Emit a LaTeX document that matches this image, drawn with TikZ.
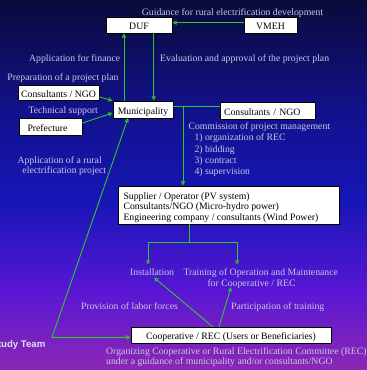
\documentclass[tikz,border=0pt]{standalone}
\usepackage{fontspec}
\setmainfont{Liberation Serif}
\newfontfamily\teamfont{Liberation Sans}
\usetikzlibrary{arrows.meta}

\definecolor{bgA}{RGB}{10,10,58}
\definecolor{bgB}{RGB}{18,18,140}
\definecolor{bgC}{RGB}{22,22,182}
\definecolor{bgD}{RGB}{88,22,212}
\definecolor{bgE}{RGB}{140,40,180}
\definecolor{labelgray}{RGB}{200,200,226}
\definecolor{linkgreen}{RGB}{45,200,45}

\begin{document}
\begin{tikzpicture}[x=1pt,y=-1pt,
  every node/.style={font=\fontsize{9.75}{11}\selectfont, inner sep=0pt},
  box/.style={draw=black, line width=0.8pt, fill=white, text=black,
              text height=9pt, text depth=0pt},
  lbl/.style={text=labelgray, anchor=base west},
  link/.style={draw=linkgreen, line width=0.9pt},
  tip/.tip={Triangle[open, length=4.2pt, width=4.2pt]},
  arr/.style={link, -tip},
  biarr/.style={link, tip-tip},
]
\useasboundingbox (0,0) rectangle (367,370);

% background gradient, dark navy to purple
\shade[top color=bgA, bottom color=bgB] (0,0) rectangle (367,110.5);
\shade[top color=bgB, bottom color=bgC] (0,110) rectangle (367,200.5);
\shade[top color=bgC, bottom color=bgD] (0,200) rectangle (367,290.5);
\shade[top color=bgD, bottom color=bgE] (0,290) rectangle (367,370);

% boxes
\node[box, minimum width=66pt, minimum height=16pt] (duf) at (139,25) {DUF};
\node[box, minimum width=53pt, minimum height=16pt] (vmeh) at (270.5,25) {VMEH};
\node[box, minimum width=81pt, minimum height=15pt] (cons1) at (58.5,92.5) {Consultants / NGO};
\node[box, minimum width=60pt, minimum height=17pt] (muni) at (143,109.5) {Municipality};
\node[box, minimum height=17pt, inner xsep=4pt, text width=87pt, align=left] (cons2) at (267.5,110.5) {Consultants / NGO};
\node[box, minimum height=17pt, inner xsep=8.5pt, text width=46pt, align=left] (pref) at (50.5,126.5) {Prefecture};
\node[box, minimum width=221pt, minimum height=38pt] (supp) at (228.5,205) {};
\node[box, minimum width=200pt, minimum height=16pt] (coop) at (231,335) {Cooperative / REC (Users or Beneficiaries)};

% supplier box contents
\node[anchor=base west, text=black] (suppA) at (123.3,199) {Supplier / Operator (PV system)};
\node[anchor=base west, text=black] (suppB) at (123.3,209.8) {Consultants/NGO (Micro-hydro power)};
\node[anchor=base west, text=black] (suppC) at (123.3,220.3) {Engineering company / consultants (Wind Power)};

% labels
\node[lbl] (guide) at (141.7,15.5) {Guidance for rural electrification development};
\node[lbl] (appfin) at (29,61) {Application for finance};
\node[lbl] (evalapp) at (160,61) {Evaluation and approval of the project plan};
\node[lbl] (prepplan) at (7.3,80) {Preparation of a project plan};
\node[lbl] (techsup) at (28.3,113.7) {Technical support};
\node[lbl] (commis) at (188.3,129.7) {Commission of project management};
\node[lbl] (stepA) at (194.3,140.9) {1) organization of REC};
\node[lbl] (stepB) at (194.3,152.2) {2) bidding};
\node[lbl] (stepC) at (194.3,163.5) {3) contract};
\node[lbl] (stepD) at (194.3,174.8) {4) supervision};
\node[lbl] (appA) at (17.3,163.3) {Application of a rural};
\node[lbl] (appB) at (22.3,173.5) {electrification project};
\node[lbl] (inst) at (130,275) {Installation};
\node[lbl] (trainA) at (183.3,275) {Training of Operation and Maintenance};
\node[lbl] (trainB) at (207.3,286.7) {for Cooperative / REC};
\node[lbl] (labor) at (81,309) {Provision of labor forces};
\node[lbl] (partic) at (231,309) {Participation of training};
\node[lbl] (orgA) at (106,354) {Organizing Cooperative or Rural Electrification Committee (REC)};
\node[lbl] (orgB) at (106,364.3) {under a guidance of municipality and/or consultants/NGO};
\node[anchor=base east, text=labelgray!60!white, font=\teamfont\bfseries\fontsize{9.6}{11}\selectfont] (team) at (45.5,347.3) {Study Team};

% helper points for the connectors
\coordinate (upx) at (124,0);
\coordinate (downx) at (153.7,0);
\coordinate (hl) at (200,106.7);
\coordinate (junc) at (183,106.7);
\coordinate (split) at (189,242);
\coordinate (instTip) at (148,264.5);
\coordinate (trainTip) at (237,264.5);
\coordinate (coopL) at (213,327);
\coordinate (coopR) at (219,327);
\coordinate (instIn) at (154,277.5);
\coordinate (trainIn) at (231,287);
\coordinate (bend) at (52,337.3);
\coordinate (muniIn) at (128,118);

% connectors
\draw[arr] ([yshift=2.3pt]vmeh.west) -- ([yshift=2.3pt]vmeh.west -| duf.east);
\draw[arr] (muni.north -| upx) -- (duf.south -| upx);
\draw[arr] (duf.south -| downx) -- (muni.north -| downx);
\draw[arr] ([yshift=-4.5pt]cons1.east) -- (muni.north west);
\draw[arr] ([yshift=3.5pt]pref.east) -- ([yshift=-3.5pt]muni.west);
\draw[link] (muni.east |- hl) -- (cons2.west |- hl);
\draw[arr] (junc) -- (supp.north -| junc);
\draw[link] (supp.south -| split) -- (split);
\draw[arr] (split) -| (instTip);
\draw[arr] (split) -| (trainTip);
\draw[arr] (coopL) -- (instIn);
\draw[arr] (coopR) -- (trainIn);
\draw[biarr] (muniIn) -- (bend) -- (coop.west |- bend);
\end{tikzpicture}
\end{document}
